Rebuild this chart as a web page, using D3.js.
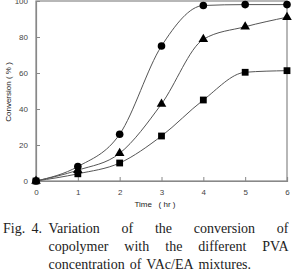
<!DOCTYPE html>
<html><head><meta charset="utf-8">
<script src="https://cdn.jsdelivr.net/npm/d3@7"></script>
<style>body{margin:0;background:#fff}svg{display:block}</style>
</head><body>
<svg id="c" width="293" height="270"></svg>
<script>
const times = [0,1,2,3,4,5,6];
const circleVals = [0,8,26,75,97.5,98,98];
const triangleVals = [0,6,15.4,42.8,78.7,85.7,91];
const squareVals = [0,4,10,25,45,60.4,61.3];
const xTicks = [0,1,2,3,4,5,6];
const yTicks = [0,20,40,60,80,100];
const captionLines = [
  ["Fig.", "4.", "Variation", "of", "the", "conversion", "of"],
  ["copolymer", "with", "the", "different", "PVA"],
  ["concentration", "of", "VAc/EA", "mixtures."]
];

const svg = d3.select("#c");
const x = d3.scaleLinear().domain([0,6]).range([36,287]);
const y = d3.scaleLinear().domain([0,100]).range([181,1]);
const axisCol = "#888";

svg.append("rect").attr("x",x(0)).attr("y",y(100)).attr("width",x(6)-x(0)).attr("height",y(0)-y(100))
  .attr("fill","none").attr("stroke",axisCol).attr("stroke-width",1.2);

const gx = svg.append("g").attr("transform",`translate(0,${y(0)})`)
  .call(d3.axisBottom(x).tickValues(xTicks).tickSize(-4).tickPadding(8).tickFormat(d3.format("d")));
const gy = svg.append("g").attr("transform",`translate(${x(0)},0)`)
  .call(d3.axisLeft(y).tickValues(yTicks).tickSize(-4).tickPadding(8).tickFormat(d3.format("d")));
[gx,gy].forEach(g=>{
  g.select(".domain").attr("stroke",axisCol).attr("stroke-width",1.2);
  g.selectAll(".tick line").attr("stroke",axisCol);
  g.selectAll("text").attr("font-family","Liberation Sans, Arial, sans-serif").attr("font-size",8).attr("fill","#444");
});

const line = d3.line().x((d,i)=>x(times[i])).y(d=>y(d)).curve(d3.curveMonotoneX);
[circleVals,triangleVals,squareVals].forEach(vals=>{
  svg.append("path").attr("d",line(vals)).attr("fill","none").attr("stroke","#555").attr("stroke-width",1);
});

svg.selectAll(".cir").data(circleVals).enter().append("circle")
  .attr("cx",(d,i)=>x(times[i])).attr("cy",d=>y(d)).attr("r",3.8).attr("fill","#000");
const tri = d3.symbol().type(d3.symbolTriangle).size(40);
svg.selectAll(".tri").data(triangleVals).enter().append("path")
  .attr("d",tri).attr("transform",(d,i)=>`translate(${x(times[i])},${y(d)})`).attr("fill","#000");
svg.selectAll(".sq").data(squareVals).enter().append("rect")
  .attr("x",(d,i)=>x(times[i])-3.4).attr("y",d=>y(d)-3.4).attr("width",6.8).attr("height",6.8).attr("fill","#000");

svg.append("text").attr("x",155).attr("y",207).attr("text-anchor","middle")
  .attr("font-family","Liberation Sans, Arial, sans-serif").attr("font-size",8).attr("fill","#222")
  .attr("xml:space","preserve").text("Time   ( hr )");
svg.append("text").attr("transform","translate(11,92) rotate(-90)").attr("text-anchor","middle")
  .attr("font-family","Liberation Sans, Arial, sans-serif").attr("font-size",8).attr("fill","#222")
  .text("Conversion ( % )");

const capFont = "Liberation Serif, Times New Roman, serif";
const baselines = [233,250.5,268.5];
const right = 288.5;
const indent = 48.5;
captionLines.forEach((words,li)=>{
  const g = svg.append("g");
  const nodes = words.map(w=>g.append("text").attr("font-family",capFont).attr("font-size",14).attr("fill","#222")
     .attr("y",baselines[li]).text(w));
  const widths = nodes.map(n=>n.node().getComputedTextLength());
  let first = 0;
  if (li===0) { nodes[0].attr("x",3); nodes[1].attr("x",31.5); first = 2; }
  const rest = widths.slice(first);
  const gap = li===2 ? 5 : (right - indent - d3.sum(rest))/(rest.length-1);
  let cx = indent;
  for (let i=first;i<nodes.length;i++){ nodes[i].attr("x",cx); cx += widths[i]+gap; }
});
</script>
</body></html>
